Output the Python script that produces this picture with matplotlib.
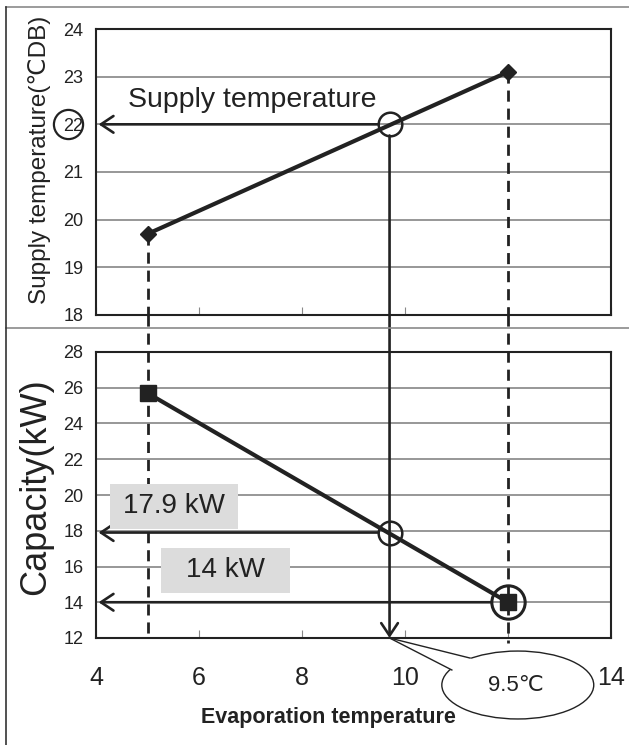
import matplotlib
matplotlib.use("Agg")
import matplotlib.pyplot as plt
from matplotlib.lines import Line2D
from matplotlib.patches import ConnectionPatch, Ellipse, Polygon, Rectangle

plt.rcParams["font.family"] = ["Liberation Sans", "DejaVu Sans"]

# evaporation temperature (°C) at the two rated points
evap = [5, 12]
supply_temp = [19.7, 23.1]
capacity = [25.7, 14.0]

# read-off values
evap_read = 9.7
supply_read = 22.0
capacity_read = 17.9
capacity_rated = 14.0

x_ticks = [4, 6, 8, 10, 12, 14]
x_labels = ["4", "6", "8", "10", "", "14"]
supply_ticks = [18, 19, 20, 21, 22, 23, 24]
capacity_ticks = [12, 14, 16, 18, 20, 22, 24, 26, 28]

W, H = 629, 745
fig = plt.figure(figsize=(W / 100, H / 100), dpi=100)


def fx(px):
    return px / W


def fy(py):
    return 1 - py / H


ax1 = fig.add_axes([fx(96), fy(315), fx(611) - fx(96), fy(29) - fy(315)])
ax2 = fig.add_axes([fx(96), fy(638), fx(611) - fx(96), fy(352) - fy(638)])

for ax, ticks in ((ax1, supply_ticks), (ax2, capacity_ticks)):
    ax.set_xlim(4, 14)
    ax.set_ylim(ticks[0], ticks[-1])
    ax.set_yticks(ticks)
    ax.set_xticks(x_ticks, x_labels)
    ax.grid(axis="y", color="#7a7a7a", linewidth=1.1)
    ax.tick_params(axis="y", length=0, pad=9, labelsize=13, colors="#222")
    ax.tick_params(axis="x", direction="in", length=6, width=0.8,
                   color="#888", labelsize=18, pad=20, labelcolor="#222")
    for s in ax.spines.values():
        s.set_color("#222")
        s.set_linewidth(1.5)
    ax.set_axisbelow(True)

ax1.tick_params(axis="x", labelbottom=False)

arrow = "->,head_length=0.45,head_width=0.3"
dash = dict(color="#222", lw=2.0, linestyle=(0, (4, 2.5)), clip_on=False,
            zorder=3)

# dashed drop lines from both rated points; the part below the upper
# panel reaches through the gap into the lower panel
gap = 37 / 286 * 16  # gap between the panels, in capacity units
for xv, yv, y_end in ((evap[0], supply_temp[0], 12.15),
                      (evap[1], supply_temp[1], 11.7)):
    ax1.plot([xv, xv], [yv, 18], **dash)
    ax2.plot([xv, xv], [28 + gap, y_end], **dash)

# supply temperature line
ax1.plot(evap, supply_temp, color="#222", linewidth=3, marker="D",
         markersize=8, zorder=4)
ax1.plot(evap_read, supply_read, marker="o", markersize=17, mfc="none",
         mec="#222", mew=1.8, zorder=5)
ax1.annotate("", xy=(4.05, supply_read), xytext=(evap_read, supply_read),
             arrowprops=dict(arrowstyle=arrow, color="#222", lw=1.9,
                             mutation_scale=20, shrinkA=8, shrinkB=0),
             zorder=4)
ax1.text(4.62, 22.52, "Supply temperature", fontsize=20.5, color="#222",
         va="center", ha="left")
# ring around the 22 tick label
ax1.plot(3.45, supply_read, marker="o", markersize=21, mfc="none",
         mec="#222", mew=1.6, clip_on=False, zorder=6)

# capacity line
ax2.plot(evap, capacity, color="#222", linewidth=3, marker="s",
         markersize=12, zorder=4)
ax2.plot(evap_read, capacity_read, marker="o", markersize=17, mfc="none",
         mec="#222", mew=1.8, zorder=5)
ax2.plot(evap[1], capacity_rated, marker="o", markersize=24, mfc="none",
         mec="#222", mew=2.2, zorder=5)
for x0, yv, shrink in ((evap_read, capacity_read, 8),
                       (evap[1], capacity_rated, 12)):
    ax2.annotate("", xy=(4.05, yv), xytext=(x0, yv),
                 arrowprops=dict(arrowstyle=arrow, color="#222", lw=1.9,
                                 mutation_scale=20, shrinkA=shrink,
                                 shrinkB=0), zorder=4)

# grey label boxes
ax2.add_patch(Rectangle((4.27, 18.1), 2.49, 2.52, facecolor="#dcdcdc",
                        edgecolor="none", zorder=5))
ax2.text(5.51, 19.38, f"{capacity_read} kW", fontsize=20, color="#222",
         ha="center", va="center", zorder=6)
ax2.add_patch(Rectangle((5.26, 14.52), 2.51, 2.51, facecolor="#dcdcdc",
                        edgecolor="none", zorder=5))
ax2.text(6.51, 15.8, f"{capacity_rated:g} kW", fontsize=20, color="#222",
         ha="center", va="center", zorder=6)

# reading line running down across both panels
fig.add_artist(ConnectionPatch(
    xyA=(evap_read, supply_read), coordsA=ax1.transData,
    xyB=(evap_read, 12), coordsB=ax2.transData,
    arrowstyle=arrow, mutation_scale=20,
    color="#222", lw=1.9, shrinkA=8, shrinkB=0))

# callout bubble for the evaporation temperature
tip = (evap_read, 12)
p1 = (11.26, 10.88)
p2 = (10.91, 10.21)
ax2.add_patch(Ellipse((12.19, 9.37), 2.95, 3.8, facecolor="white",
                      edgecolor="#222", lw=1.0, clip_on=False, zorder=7))
ax2.add_patch(Polygon([tip, p1, (11.6, 10.4), p2], closed=True,
                      facecolor="white", edgecolor="none",
                      clip_on=False, zorder=7.5))
for p in (p1, p2):
    ax2.add_line(Line2D([tip[0], p[0]], [tip[1], p[1]], color="#222",
                        lw=1.0, clip_on=False, zorder=8))
ax2.text(12.15, 9.35, "9.5℃", fontsize=16, color="#222", ha="center",
         va="center", zorder=9)

# axis titles
fig.text(fx(40), fy(160), "Supply temperature(℃DB)", rotation=90,
         fontsize=17.5, color="#222", ha="center", va="center")
fig.text(fx(36), fy(487), "Capacity(kW)", rotation=90, fontsize=26,
         color="#222", ha="center", va="center")
fig.text(fx(328), fy(717), "Evaporation temperature", fontsize=15.5,
         fontweight="bold", color="#222", ha="center", va="center")

# outer frame lines
fig.add_artist(Line2D([fx(6), 1], [fy(7), fy(7)], color="#8a8a8a", lw=1.2))
fig.add_artist(Line2D([fx(6), 1], [fy(328), fy(328)], color="#8a8a8a", lw=1.2))
fig.add_artist(Line2D([fx(6), fx(6)], [fy(7), 0], color="#333", lw=1.2))

fig.savefig("out.png", dpi=100)
